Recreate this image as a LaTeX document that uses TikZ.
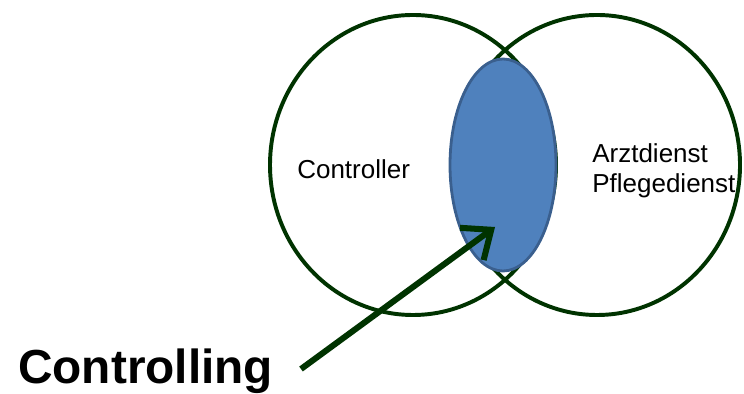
\documentclass[tikz,border=0pt]{standalone}
\usepackage{fontspec}
\setmainfont{Liberation Sans}
\usepackage{tikz}
\usetikzlibrary{arrows.meta,shapes.geometric}
\definecolor{vennGreen}{HTML}{003300}
\definecolor{vennBlue}{HTML}{4F81BD}
\definecolor{vennBlueEdge}{HTML}{3A5F8E}
\tikzset{
    vcircle/.style={ellipse, draw=vennGreen, line width=2.8pt, minimum width=7.15cm, minimum height=7.5cm, inner sep=0pt},
    vlap/.style={ellipse, draw=vennBlueEdge, line width=2pt, fill=vennBlue, minimum width=2.65cm, minimum height=5.3cm, inner sep=0pt},
    vlabel/.style={anchor=base west, inner sep=0pt, align=left, font=\fontsize{18.5}{22}\selectfont},
    varrow/.style={-{Straight Barb[length=0.6cm, width=1cm]}, line width=4.3pt, draw=vennGreen}
}
\begin{document}
\begin{tikzpicture}
            \useasboundingbox (0,0) rectangle (18.6,9.85);
            \node[vcircle] (ctrl) at (10.325,5.725) {};
            \node[vcircle] (med) at (14.925,5.725) {};
            \node[vlap] (lap) at (12.575,5.725) {};
            \node[vlabel] (tctrl) at (7.425,5.375) {Controller};
            \node[vlabel] (tmed) at (14.8,5.025) {Arztdienst\\Pflegedienst};
            \node[anchor=base west, inner sep=0pt, font=\fontsize{34}{40}\selectfont\bfseries] (tcing) at (0.45,0.27) {Controlling};
            \coordinate (tail) at (7.525,0.625);
            \coordinate (tip) at (12.375,4.175);
            \draw[varrow] (tail) -- (tip);
        \end{tikzpicture}
\end{document}
